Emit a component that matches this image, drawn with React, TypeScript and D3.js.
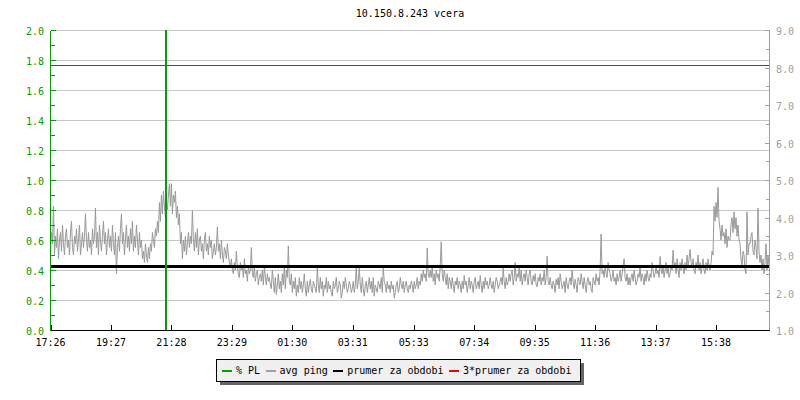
import React from "react";
import * as d3 from "d3";

// ---------- data ----------
const chartTitle = "10.150.8.243 vcera";
const startTime = "17:26";
const spanMinutes = 1440;
const xTickLabels = ["17:26", "19:27", "21:28", "23:29", "01:30", "03:31", "05:33", "07:34", "09:35", "11:36", "13:37", "15:38"];
const leftTicks = [0, 0.2, 0.4, 0.6, 0.8, 1.0, 1.2, 1.4, 1.6, 1.8, 2.0];
const leftMinorTicks = [0.1, 0.3, 0.5, 0.7, 0.9, 1.1, 1.3, 1.5, 1.7, 1.9];
const rightTicks = [1, 2, 3, 4, 5, 6, 7, 8, 9];
const rightMinorTicks = [1.5, 2.5, 3.5, 4.5, 5.5, 6.5, 7.5, 8.5];

// avg ping (ms, right axis), one sample every 2 minutes from 17:26
const pingStepMinutes = 2;
const avgPing = [
  3.1, 3.6, 3.3, 4.3, 3.0, 3.5, 3.2, 3.7, 2.9, 3.4, 3.6, 3.1, 3.8, 3.3, 3.0, 3.5, 3.7, 3.2, 3.4, 3.0,
  3.6, 3.9, 3.2, 3.0, 3.5, 3.3, 3.7, 3.1, 3.4, 3.8, 3.0, 3.3, 3.6, 3.2, 3.5, 4.1, 3.4, 3.1, 3.6, 3.2,
  3.4, 3.0, 3.7, 3.3, 3.5, 4.25, 3.2, 3.6, 3.0, 3.8, 3.4, 3.1, 3.5, 3.9, 3.3, 3.6, 3.0, 3.4, 3.7, 3.2,
  3.5, 3.1, 3.8, 3.3, 3.0, 3.6, 2.5, 3.2, 3.5, 3.1, 3.7, 4.1, 3.3, 3.6, 3.0, 3.4, 3.8, 3.2, 3.5, 3.1,
  3.7, 3.3, 3.9, 3.1, 3.5, 3.2, 3.8, 3.4, 3.0, 3.6, 3.2, 3.4, 2.9, 3.1, 2.8, 3.3, 3.0, 2.8, 3.2, 2.9,
  3.3, 3.1, 3.6, 3.4, 3.2, 3.7, 3.5, 3.9, 3.6, 4.4, 3.9, 4.6, 4.1, 4.7, 4.3, 4.0, 4.5, 4.2, 4.6, 4.9,
  4.3, 4.9, 4.1, 4.6, 4.4, 4.7, 4.0, 4.3, 3.8, 4.1, 3.3, 3.6, 2.9, 3.4, 3.1, 3.5, 3.0, 3.3, 3.6, 3.2,
  3.5, 3.3, 4.2, 3.4, 3.1, 3.6, 3.2, 3.7, 3.0, 3.4, 3.5, 3.1, 3.3, 2.9, 3.4, 3.6, 3.1, 3.3, 3.0, 3.5,
  3.2, 3.4, 2.9, 3.1, 3.3, 3.0, 3.2, 3.75, 3.1, 3.3, 2.9, 3.4, 3.0, 2.8, 3.2, 3.1, 2.9, 3.3, 3.0, 2.8,
  2.7, 2.9, 2.6, 2.5, 2.8, 2.6, 3.1, 2.7, 2.5, 2.4, 2.8, 2.6, 2.7, 2.4, 2.9, 2.5, 2.6, 2.3, 2.7, 2.5,
  2.6, 3.2, 2.5, 2.4, 2.7, 2.3, 2.5, 2.6, 2.2, 2.4, 2.5, 2.3, 2.6, 2.2, 2.7, 2.4, 2.2, 2.5, 2.3, 2.4,
  2.2, 2.1, 2.6, 2.3, 2.0, 2.4, 1.95, 2.2, 2.5, 2.1, 2.3, 2.0, 2.5, 2.2, 2.7, 2.1, 2.6, 2.4, 3.24, 2.3,
  2.2, 2.5, 2.0, 2.3, 2.1, 2.4, 1.9, 2.2, 2.0, 2.4, 2.1, 2.3, 2.0, 2.2, 2.5, 2.1, 1.9, 2.3, 2.0, 2.2,
  2.35, 2.1, 2.0, 2.3, 2.2, 2.1, 2.0, 2.7, 2.2, 2.0, 2.4, 2.1, 2.3, 1.9, 2.2, 2.1, 2.4, 2.0, 2.3, 2.1,
  2.2, 2.0, 1.9, 2.3, 2.1, 2.2, 2.4, 2.0, 2.1, 2.3, 2.2, 1.85, 2.0, 2.3, 2.1, 2.4, 2.2, 2.0, 2.1, 2.3,
  2.2, 2.0, 2.1, 2.3, 2.0, 2.2, 2.7, 2.1, 2.3, 2.65, 2.2, 2.0, 2.4, 2.1, 1.9, 2.2, 2.3, 2.0, 2.2, 2.4,
  2.1, 2.3, 2.0, 2.4, 1.9, 2.2, 2.1, 2.0, 2.3, 2.2, 2.1, 2.4, 2.0, 2.65, 2.3, 2.2, 2.0, 2.3, 2.1, 2.2,
  2.0, 2.3, 2.1, 2.2, 1.85, 2.0, 2.2, 2.3, 2.0, 2.1, 2.4, 2.2, 2.1, 2.3, 2.0, 2.2, 2.3, 2.1, 2.0, 2.2,
  2.1, 2.3, 2.2, 2.0, 2.3, 2.1, 2.2, 2.4, 2.1, 2.3, 2.2, 2.5, 2.3, 2.6, 2.4, 2.5, 2.3, 3.19, 2.5, 2.4,
  2.6, 2.4, 2.7, 2.3, 2.5, 2.2, 2.6, 2.4, 2.5, 2.3, 2.7, 3.35, 2.5, 2.3, 2.6, 2.4, 2.2, 2.5, 2.1, 2.4,
  2.3, 2.1, 2.4, 2.2, 2.0, 2.3, 2.2, 2.4, 2.1, 2.3, 2.2, 2.0, 2.3, 2.1, 2.45, 2.2, 2.3, 2.0, 2.2, 2.4,
  2.1, 2.3, 2.2, 2.0, 2.3, 2.4, 2.1, 2.2, 2.3, 2.1, 2.45, 2.2, 2.0, 2.3, 2.1, 2.4, 2.2, 2.3, 2.1, 2.2,
  2.4, 2.2, 2.1, 2.3, 2.0, 2.2, 2.4, 2.3, 2.1, 2.2, 2.3, 2.4, 2.2, 2.65, 2.3, 2.1, 2.4, 2.2, 2.3, 2.5,
  2.3, 2.5, 2.6, 2.2, 2.4, 2.8, 2.3, 2.5, 2.4, 2.7, 2.3, 2.6, 2.2, 2.4, 2.5, 2.3, 2.6, 2.4, 2.2, 2.5,
  2.6, 2.3, 2.2, 2.45, 2.3, 2.5, 2.2, 2.15, 2.4, 2.3, 2.5, 2.2, 2.4, 2.3, 2.6, 2.2, 2.4, 2.97, 2.3, 2.2,
  2.4, 2.2, 2.1, 2.3, 2.2, 2.0, 2.35, 2.2, 2.4, 2.1, 2.5, 2.3, 2.1, 2.2, 2.3, 2.0, 2.4, 2.2, 2.1, 2.3,
  2.4, 2.2, 2.6, 2.3, 2.1, 2.35, 2.2, 2.0, 2.4, 2.3, 2.2, 2.5, 2.3, 2.1, 2.4, 2.2, 2.0, 2.3, 2.4, 2.2,
  2.3, 2.1, 2.0, 2.4, 2.3, 2.2, 2.5, 2.3, 2.4, 2.2, 2.6, 3.56, 2.5, 2.6, 2.4, 2.7, 2.5, 2.4, 2.8, 2.6,
  2.5, 2.3, 2.4, 2.6, 2.3, 2.4, 2.2, 2.5, 2.3, 2.4, 2.6, 2.3, 2.5, 2.7, 2.9, 2.4, 2.3, 2.5, 2.2, 2.4,
  2.2, 2.4, 2.5, 2.3, 2.6, 2.4, 2.2, 2.3, 2.5, 2.4, 2.7, 2.3, 2.5, 2.4, 2.2, 2.5, 2.3, 2.6, 2.4, 2.3,
  2.5, 2.4, 2.8, 2.6, 2.4, 2.5, 2.7, 2.5, 2.6, 2.4, 2.96, 2.6, 2.5, 2.7, 2.4, 2.6, 2.8, 2.5, 2.7, 2.4,
  2.5, 2.7, 2.6, 3.13, 2.7, 2.8, 2.5, 2.9, 2.6, 2.4, 2.8, 2.6, 2.9, 2.7, 2.5, 2.8, 2.6, 3.0, 2.7, 2.9,
  3.15, 2.8, 2.7, 2.9, 2.6, 2.5, 2.8, 2.7, 3.0, 2.6, 2.8, 2.5, 2.7, 2.9, 2.6, 2.5, 2.8, 2.6, 2.9, 2.7,
  2.6, 2.8, 3.1, 3.0, 4.3, 3.9, 4.4, 4.0, 4.8, 3.9, 3.7, 3.4, 3.8, 3.5, 3.6, 3.3, 3.7, 3.2, 3.5, 3.4,
  3.4, 3.8, 4.0, 3.6, 4.15, 3.7, 4.0, 3.5, 3.8, 3.4, 3.3, 2.9, 2.7, 3.1, 3.0, 2.6, 2.5, 4.15, 3.0, 3.3,
  3.3, 3.5, 3.6, 3.1, 3.0, 3.4, 3.2, 2.9, 4.25, 3.1, 2.8, 3.0, 2.6, 2.9, 2.5, 2.8, 3.3, 2.6, 3.0, 2.7,
];

// packet loss events (minutes after 17:26, % PL on left axis)
const plMinutes = [232];
const plValues = [5.0];

// mean over the period (ms)
const periodMean = 2.69;

const legendLabels = ["% PL", "avg ping", "prumer za obdobi", "3*prumer za obdobi"];
const legendColors = ["#00a000", "#a0a0a0", "#000000", "#ff0000"];

// ---------- layout ----------
const W = 800;
const H = 400;
const FONT = "'DejaVu Sans Mono', monospace";
const GREEN = "#00a000";
const GRAY_AXIS = "#a0a0a0";
const DATA_GRAY = "#999999";
const GRID = "#c8c8c8";

function toMin(s: string) {
  const [h, m] = s.split(":").map(Number);
  return h * 60 + m;
}

export default function App() {
  const x = d3.scaleLinear().domain([0, spanMinutes]).range([50.5, 770]);
  const yL = d3.scaleLinear().domain([0, 2]).range([330, 30]);
  const yR = d3.scaleLinear().domain([1, 9]).range([330, 30]);
  const cy = (v: number) => Math.round(v) + 0.5;

  const start = toMin(startTime);
  const tickMins = xTickLabels.map((l) => (toMin(l) - start + 1440) % 1440);

  const line = d3
    .line<number>()
    .x((_, i) => x(i * pingStepMinutes))
    .y((d) => yR(d));
  const pingPath = line(avgPing) || "";

  const xLeft = 50.5;
  const xRight = 769.5;
  const yBottom = 330.5;
  const yTop = 30.5;

  // legend layout
  const charW = 6.02;
  let lx = 222;
  const legendPos = legendLabels.map((lab) => {
    const p = { line: lx, text: lx + 14 };
    lx = lx + 14 + lab.length * charW + 5.5;
    return p;
  });

  return (
    <svg
      width={W}
      height={H}
      viewBox={`0 0 ${W} ${H}`}
      style={{ position: "absolute", left: 0, top: 0, background: "#fff" }}
      fontFamily={FONT}
      fontSize={10}
    >
      <rect x={0} y={0} width={W} height={H} fill="#fff" />
      <defs>
        <clipPath id="plot">
          <rect x={51} y={30} width={719} height={301} />
        </clipPath>
      </defs>

      {/* title */}
      <text x={410} y={17} textAnchor="middle" fill="#000">
        {chartTitle}
      </text>

      {/* grid lines (left axis) */}
      <g shapeRendering="crispEdges">
        {leftTicks.map((t) => (
          <line key={"g" + t} x1={xLeft} x2={xRight} y1={cy(yL(t))} y2={cy(yL(t))} stroke={GRID} strokeWidth={1} />
        ))}
      </g>

      {/* data */}
      <g clipPath="url(#plot)">
        <path d={pingPath} fill="none" stroke={DATA_GRAY} strokeWidth={1} />
        <line
          x1={xLeft}
          x2={xRight}
          y1={yR(periodMean)}
          y2={yR(periodMean)}
          stroke="#000"
          strokeWidth={2.5}
          shapeRendering="crispEdges"
        />
        <line
          x1={xLeft}
          x2={xRight}
          y1={cy(yR(periodMean * 3))}
          y2={cy(yR(periodMean * 3))}
          stroke="#ff0000"
          strokeWidth={1}
          shapeRendering="crispEdges"
        />
        {plMinutes.map((m, i) => (
          <line
            key={"pl" + i}
            x1={Math.round(x(m))}
            x2={Math.round(x(m))}
            y1={yL(0)}
            y2={yL(Math.min(plValues[i], 2))}
            stroke={GREEN}
            strokeWidth={2}
            shapeRendering="crispEdges"
          />
        ))}
      </g>

      {/* left axis */}
      <g shapeRendering="crispEdges">
        <line x1={xLeft} x2={xLeft} y1={yTop} y2={yBottom} stroke={GREEN} />
        {leftTicks.map((t) => (
          <line key={"lt" + t} x1={xLeft} x2={xLeft + 5} y1={cy(yL(t))} y2={cy(yL(t))} stroke={GREEN} />
        ))}
        {leftMinorTicks.map((t) => (
          <line key={"lm" + t} x1={xLeft} x2={xLeft + 4} y1={cy(yL(t))} y2={cy(yL(t))} stroke={GREEN} />
        ))}
      </g>
      {leftTicks.map((t) => (
        <text key={"ll" + t} x={44} y={cy(yL(t)) + 4} textAnchor="end" fill={GREEN}>
          {t.toFixed(1)}
        </text>
      ))}

      {/* right axis */}
      <g shapeRendering="crispEdges">
        <line x1={xRight} x2={xRight} y1={yTop} y2={yBottom} stroke={GRAY_AXIS} />
        {rightTicks.map((t) => (
          <line key={"rt" + t} x1={xRight - 5} x2={xRight} y1={cy(yR(t))} y2={cy(yR(t))} stroke={GRAY_AXIS} />
        ))}
        {rightMinorTicks.map((t) => (
          <line key={"rm" + t} x1={xRight - 4} x2={xRight} y1={cy(yR(t))} y2={cy(yR(t))} stroke={GRAY_AXIS} />
        ))}
      </g>
      {rightTicks.map((t) => (
        <text key={"rl" + t} x={776} y={cy(yR(t)) + 4} textAnchor="start" fill={GRAY_AXIS}>
          {t.toFixed(1)}
        </text>
      ))}

      {/* bottom axis */}
      <g shapeRendering="crispEdges">
        <line x1={xLeft} x2={xRight} y1={yBottom} y2={yBottom} stroke="#000" />
        {tickMins.map((m, i) => (
          <line
            key={"bt" + i}
            x1={Math.round(x(m)) + 0.5}
            x2={Math.round(x(m)) + 0.5}
            y1={yBottom}
            y2={yBottom - 6}
            stroke="#000"
          />
        ))}
      </g>
      {tickMins.map((m, i) => (
        <text key={"bl" + i} x={x(m)} y={346} textAnchor="middle" fill="#000">
          {xTickLabels[i]}
        </text>
      ))}

      {/* legend */}
      <g shapeRendering="crispEdges">
        <rect x={219.5} y={362.5} width={364} height={22} fill="#666" />
        <rect x={216.5} y={359.5} width={364} height={22} fill="#f0f0f0" stroke="#000" />
        {legendLabels.map((lab, i) => (
          <line
            key={"lgl" + i}
            x1={legendPos[i].line}
            x2={legendPos[i].line + 10}
            y1={370.5}
            y2={370.5}
            stroke={legendColors[i]}
            strokeWidth={2}
          />
        ))}
      </g>
      {legendLabels.map((lab, i) => (
        <text key={"lgt" + i} x={legendPos[i].text} y={374} fill="#000">
          {lab}
        </text>
      ))}
    </svg>
  );
}
